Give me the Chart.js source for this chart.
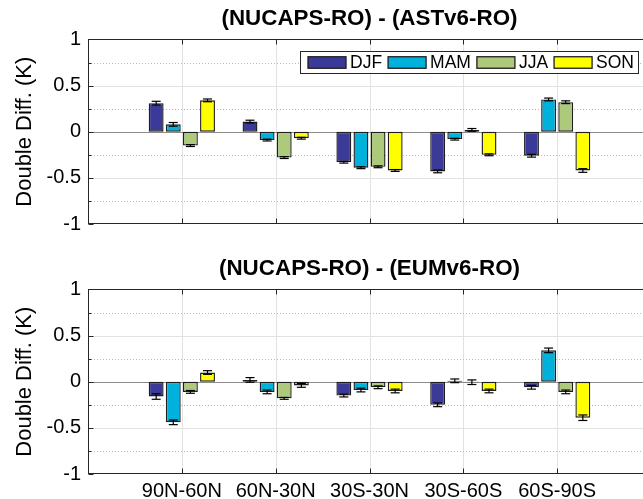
<!DOCTYPE html>
<html>
<head>
<meta charset="utf-8">
<script src="https://cdn.jsdelivr.net/npm/chart.js@4/dist/chart.umd.min.js"></script>
<style>
  html, body { margin: 0; padding: 0; background: #fff; overflow: hidden; width: 643px; height: 499px; }
  canvas { position: absolute; left: 0; }
  #top { top: 0; }
  #bottom { top: 250px; }
</style>
</head>
<body>
<canvas id="top" width="680" height="250"></canvas>
<canvas id="bottom" width="680" height="249"></canvas>
<script>
// Latitude bands and seasons
const regions = ['90N-60N', '60N-30N', '30S-30N', '30S-60S', '60S-90S'];
const seasons = ['DJF', 'MAM', 'JJA', 'SON'];
const seasonColors = ['#3b3a98', '#00b1dc', '#adc97b', '#ffff00'];
const yTicks = [-1, -0.5, 0, 0.5, 1];
const yMinor = [-0.75, -0.25, 0.25, 0.75];

// (NUCAPS-RO) - (ASTv6-RO), K
const astDJF = [0.31, 0.11, -0.33, -0.43, -0.26];
const astMAM = [0.08, -0.09, -0.39, -0.08, 0.35];
const astJJA = [-0.15, -0.28, -0.38, 0.02, 0.32];
const astSON = [0.34, -0.07, -0.42, -0.25, -0.42];
const astDJFerr = [0.02, 0.015, 0.01, 0.015, 0.015];
const astMAMerr = [0.02, 0.01, 0.01, 0.01, 0.015];
const astJJAerr = [0.01, 0.01, 0.01, 0.015, 0.015];
const astSONerr = [0.015, 0.01, 0.01, 0.01, 0.02];

// (NUCAPS-RO) - (EUMv6-RO), K
const eumDJF = [-0.16, 0.02, -0.15, -0.25, -0.06];
const eumMAM = [-0.44, -0.11, -0.09, 0.01, 0.34];
const eumJJA = [-0.11, -0.18, -0.06, -0.005, -0.11];
const eumSON = [0.10, -0.04, -0.10, -0.10, -0.39];
const eumDJFerr = [0.03, 0.025, 0.015, 0.02, 0.02];
const eumMAMerr = [0.025, 0.02, 0.02, 0.02, 0.025];
const eumJJAerr = [0.015, 0.01, 0.015, 0.025, 0.02];
const eumSONerr = [0.02, 0.02, 0.02, 0.02, 0.03];

const FONT = "'Liberation Sans', Arial, Helvetica, sans-serif";
const AXIS_COLOR = '#262626';

function seg(ctx, x1, y1, x2, y2) {
  ctx.beginPath(); ctx.moveTo(x1, y1); ctx.lineTo(x2, y2); ctx.stroke();
}

// Grid, frame, error bars and legend around the bars
const frame = {
  id: 'frame',
  beforeDatasetsDraw(chart) {
    const { ctx, chartArea: a, scales: { x, y } } = chart;
    ctx.save();
    ctx.lineWidth = 1;
    ctx.strokeStyle = '#e2e2e2';
    regions.forEach((_, i) => {
      const px = Math.round(x.getPixelForValue(i + 1)) + 0.5;
      seg(ctx, px, a.top, px, a.bottom);
    });
    yTicks.forEach(v => {
      if (v === 0 || Math.abs(v) === 1) return;
      const py = Math.round(y.getPixelForValue(v)) + 0.5;
      seg(ctx, a.left, py, a.right, py);
    });
    ctx.setLineDash([1, 2]);
    ctx.strokeStyle = '#b8b8b8';
    yMinor.forEach(v => {
      const py = Math.round(y.getPixelForValue(v)) + 0.5;
      seg(ctx, a.left, py, a.right, py);
    });
    ctx.setLineDash([]);
    ctx.strokeStyle = '#8c8c8c';
    const p0 = Math.round(y.getPixelForValue(0)) + 0.5;
    seg(ctx, a.left, p0, a.right, p0);
    ctx.restore();
  },
  afterDatasetsDraw(chart, args, opts) {
    const { ctx, chartArea: a, scales: { x, y } } = chart;
    ctx.save();
    // error bars
    ctx.strokeStyle = '#000';
    ctx.lineWidth = 1.2;
    opts.values.forEach((series, k) => {
      const meta = chart.getDatasetMeta(k);
      series.forEach((v, i) => {
        const px = meta.data[i].x;
        const e = opts.errors[k][i];
        const yHi = y.getPixelForValue(v + e), yLo = y.getPixelForValue(v - e);
        seg(ctx, px, yHi, px, yLo);
        seg(ctx, px - 4.5, yHi, px + 4.5, yHi);
        seg(ctx, px - 4.5, yLo, px + 4.5, yLo);
      });
    });
    // axes box and inward ticks
    ctx.strokeStyle = AXIS_COLOR;
    ctx.lineWidth = 1;
    const L = Math.round(a.left) + 0.5, R = Math.round(a.right) - 0.5;
    const T = Math.round(a.top) + 0.5, B = Math.round(a.bottom) - 0.5;
    ctx.strokeRect(L, T, R - L, B - T);
    regions.forEach((_, i) => {
      const px = Math.round(x.getPixelForValue(i + 1)) + 0.5;
      seg(ctx, px, B, px, B - 5);
      seg(ctx, px, T, px, T + 5);
    });
    yTicks.forEach(v => {
      const py = Math.round(y.getPixelForValue(v)) + 0.5;
      seg(ctx, L, py, L + 5, py);
      seg(ctx, R, py, R - 5, py);
    });
    yMinor.forEach(v => {
      const py = Math.round(y.getPixelForValue(v)) + 0.5;
      seg(ctx, L, py, L + 3, py);
      seg(ctx, R, py, R - 3, py);
    });
    // legend box
    if (opts.legend) {
      ctx.font = '17.5px ' + FONT;
      ctx.textBaseline = 'middle';
      ctx.textAlign = 'left';
      const left = 300, top = 51, h = 22, patchW = 38, patchH = 11.5;
      let cx = left + 8;
      const items = seasons.map((s, k) => {
        const it = { s, k, px: cx, tx: cx + patchW + 4 };
        cx = it.tx + ctx.measureText(s).width + 6;
        return it;
      });
      const right = cx - 6 + 4;
      ctx.fillStyle = '#fff';
      ctx.fillRect(left, top, right - left, h);
      ctx.strokeStyle = AXIS_COLOR;
      ctx.lineWidth = 1;
      ctx.strokeRect(left + 0.5, top + 0.5, right - left, h);
      const cy = top + h / 2 + 0.5;
      items.forEach(it => {
        ctx.fillStyle = seasonColors[it.k];
        ctx.fillRect(it.px, cy - patchH / 2, patchW, patchH);
        ctx.strokeStyle = '#1e1e1e';
        ctx.lineWidth = 1.3;
        ctx.strokeRect(it.px, cy - patchH / 2, patchW, patchH);
        ctx.fillStyle = '#000';
        ctx.fillText(it.s, it.tx, cy + 0.5);
      });
    }
    ctx.restore();
  }
};

function makeChart(id, title, values, errors, showX, xHeight, withLegend) {
  return new Chart(document.getElementById(id), {
    type: 'bar',
    data: {
      datasets: seasons.map((s, k) => ({
        label: s,
        data: values[k].map((v, i) => ({ x: i + 1, y: v })),
        backgroundColor: seasonColors[k],
        borderColor: '#1e1e1e',
        borderWidth: 1.4,
        borderSkipped: false,
        categoryPercentage: 0.7296,
        barPercentage: 0.87
      }))
    },
    options: {
      responsive: false,
      animation: false,
      devicePixelRatio: 1,
      layout: { padding: { left: 0, right: 29, top: 0, bottom: 0 } },
      plugins: {
        legend: { display: false },
        tooltip: { enabled: false },
        title: {
          display: true, fullSize: false, text: title, color: '#000',
          font: { family: FONT, size: 22.4, weight: 'bold' },
          padding: { top: 5, bottom: 7.6 }
        },
        frame: { values, errors, legend: withLegend }
      },
      scales: {
        x: {
          type: 'linear', min: 0, max: 6, offset: false,
          grid: { display: false, drawTicks: false, offset: false }, border: { display: false },
          afterBuildTicks: s => { s.ticks = regions.map((_, i) => ({ value: i + 1 })); },
          ticks: {
            display: showX, autoSkip: false, maxRotation: 0, padding: 5, color: '#000',
            font: { family: FONT, size: 20 },
            callback: v => regions[v - 1] ?? ''
          },
          afterFit: s => { s.height = xHeight; }
        },
        y: {
          min: -1, max: 1,
          grid: { display: false, drawTicks: false }, border: { display: false },
          afterBuildTicks: s => { s.ticks = yTicks.map(v => ({ value: v })); },
          ticks: { color: '#000', padding: 7, font: { family: FONT, size: 20 }, callback: v => String(v) },
          title: {
            display: true, text: 'Double Diff. (K)', color: '#000',
            font: { family: FONT, size: 22 }, padding: { top: 12, bottom: 0 }
          },
          afterFit: s => { s.width = 88; }
        }
      }
    },
    plugins: [frame]
  });
}

makeChart('top', '(NUCAPS-RO) - (ASTv6-RO)',
  [astDJF, astMAM, astJJA, astSON],
  [astDJFerr, astMAMerr, astJJAerr, astSONerr], false, 26, true);
makeChart('bottom', '(NUCAPS-RO) - (EUMv6-RO)',
  [eumDJF, eumMAM, eumJJA, eumSON],
  [eumDJFerr, eumMAMerr, eumJJAerr, eumSONerr], true, 25, false);
</script>
</body>
</html>
